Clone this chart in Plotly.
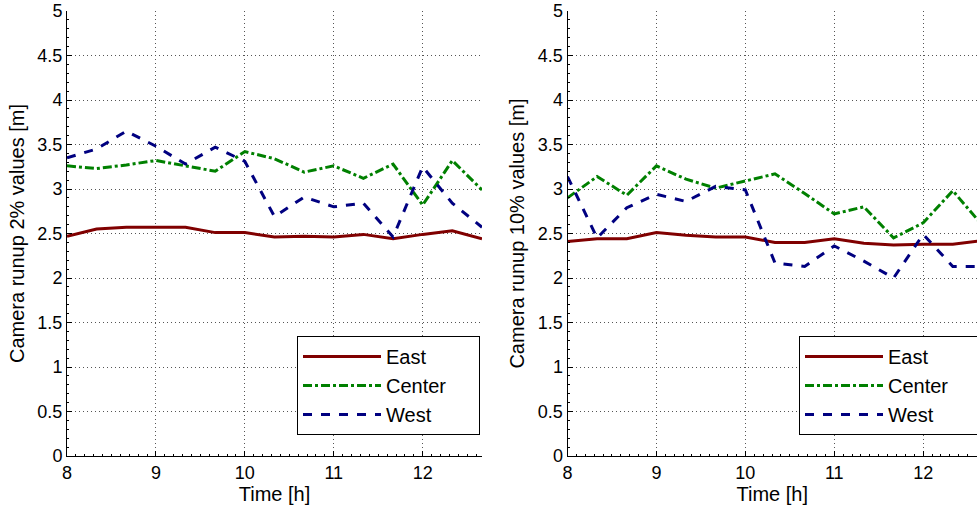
import plotly.graph_objects as go

# Time of day [h], every 20 minutes
time_h = [8.0, 8.333, 8.667, 9.0, 9.333, 9.667, 10.0, 10.333, 10.667, 11.0,
          11.333, 11.667, 12.0, 12.333, 12.667]

# Camera runup 2% values [m]
east_2 = [2.47, 2.55, 2.57, 2.57, 2.57, 2.51, 2.51, 2.46, 2.47, 2.46, 2.49, 2.44, 2.49, 2.53, 2.44]
center_2 = [3.26, 3.23, 3.27, 3.32, 3.26, 3.20, 3.42, 3.34, 3.19, 3.26, 3.12, 3.28, 2.82, 3.32, 2.99]
west_2 = [3.35, 3.45, 3.65, 3.48, 3.28, 3.47, 3.31, 2.69, 2.91, 2.80, 2.84, 2.46, 3.25, 2.84, 2.57]

# Camera runup 10% values [m]
east_10 = [2.41, 2.44, 2.44, 2.51, 2.48, 2.46, 2.46, 2.40, 2.40, 2.44, 2.39, 2.37, 2.38, 2.38, 2.42]
center_10 = [2.90, 3.14, 2.93, 3.26, 3.11, 3.01, 3.09, 3.17, 2.95, 2.72, 2.80, 2.45, 2.62, 2.98, 2.59]
west_10 = [3.14, 2.45, 2.79, 2.94, 2.86, 3.03, 2.99, 2.17, 2.13, 2.36, 2.19, 2.00, 2.49, 2.13, 2.13]

series_names = ["East", "Center", "West"]
colors = ["#800000", "#008000", "#000080"]
dashes = ["solid", "dashdot", "dash"]

x_ticks = [8, 9, 10, 11, 12]
y_ticks = [0, 0.5, 1, 1.5, 2, 2.5, 3, 3.5, 4, 4.5, 5]
y_ticklabels = ["0", "0.5", "1", "1.5", "2", "2.5", "3", "3.5", "4", "4.5", "5"]

W, H = 977, 508
FONT = "Liberation Sans, Arial, sans-serif"
PAD = "\u00a0" * 5  # right padding inside the legend box (MATLAB style)

fig = go.Figure()

panels = [
    ("x", "y", "legend", [east_2, center_2, west_2]),
    ("x2", "y2", "legend2", [east_10, center_10, west_10]),
]
for xa, ya, lg, vals in panels:
    for name, v, c, d in zip(series_names, vals, colors, dashes):
        fig.add_trace(go.Scatter(
            x=time_h, y=v, name=name + PAD, mode="lines",
            line=dict(color=c, width=3, dash=d),
            xaxis=xa, yaxis=ya, legend=lg,
        ))

px_per_h = (482 - 67) / (12.667 - 8)
left_dom = [67 / W, 482 / W]
right_start = 567.5
right_dom = [right_start / W, 1.0]
right_max = 8 + (W - right_start) / px_per_h
y_dom = [1 - 456 / H, 1 - 11 / H]

axis_common = dict(
    showline=True, linecolor="black", linewidth=1, mirror=False,
    ticks="inside", ticklen=5, tickcolor="black", tickwidth=1,
    showgrid=True, gridcolor="#555555", griddash="1px,3px", gridwidth=1,
    zeroline=False,
    tickfont=dict(family=FONT, size=18, color="black"),
    minor=dict(ticks="inside", ticklen=2, tickcolor="black", showgrid=False),
)

def xaxis(domain, rng, anchor):
    d = dict(axis_common)
    d.update(domain=domain, range=rng, anchor=anchor, tickvals=x_ticks,
             title=dict(text="Time [h]", font=dict(family=FONT, size=20, color="black"), standoff=0))
    d["minor"] = dict(d["minor"], dtick=0.1)
    return d

def yaxis(domain, anchor, title):
    d = dict(axis_common)
    d.update(domain=domain, range=[0, 5], anchor=anchor, tickvals=y_ticks, ticktext=y_ticklabels,
             title=dict(text=title, font=dict(family=FONT, size=20, color="black"), standoff=7))
    d["minor"] = dict(d["minor"], dtick=0.1)
    return d

legend_common = dict(
    bgcolor="white", bordercolor="black", borderwidth=1,
    font=dict(family=FONT, size=20, color="black"),
    xanchor="left", yanchor="top", itemwidth=78,
    tracegroupgap=0,
)

fig.update_layout(
    width=W, height=H,
    margin=dict(l=0, r=0, t=0, b=0, autoexpand=False),
    paper_bgcolor="white", plot_bgcolor="white",
    font=dict(family=FONT, color="black"),
    xaxis=xaxis(left_dom, [8, 12.667], "y"),
    yaxis=yaxis(y_dom, "x", "Camera runup 2% values [m]"),
    xaxis2=xaxis(right_dom, [8, right_max], "y2"),
    yaxis2=yaxis(y_dom, "x2", "Camera runup 10% values [m]"),
    legend=dict(legend_common, x=297 / W, y=1 - 336 / H),
    legend2=dict(legend_common, x=799 / W, y=1 - 336 / H),
    showlegend=True,
)

fig.write_html("out.html")
